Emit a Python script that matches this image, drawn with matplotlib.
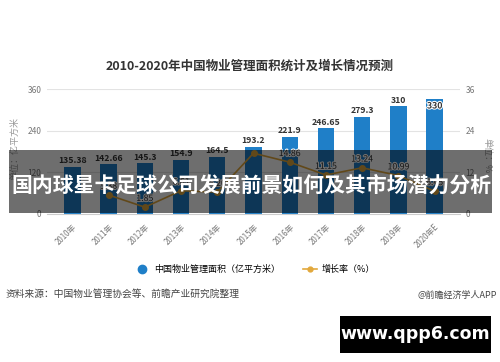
import matplotlib
matplotlib.use("Agg")
import matplotlib.pyplot as plt
import matplotlib.patheffects as pe
from matplotlib.lines import Line2D
from matplotlib.patches import Rectangle
import numpy as np

plt.rcParams['font.family'] = ['Noto Sans CJK SC', 'DejaVu Sans']

# data
years = ['2010年', '2011年', '2012年', '2013年', '2014年', '2015年',
         '2016年', '2017年', '2018年', '2019年', '2020年E']
area = [135.38, 142.66, 145.3, 154.9, 164.5, 193.2, 221.9, 246.65, 279.3, 310, 330]
growth_years = years[1:]
growth = [5.38, 1.85, 6.61, 6.20, 17.45, 14.86, 11.15, 13.24, 10.99, 6.45]
# the 2015 growth label is not shown in the picture (it would sit on 193.2)
hidden_growth_labels = ['2015年']

title = '2010-2020年中国物业管理面积统计及增长情况预测'
banner = '国内球星卡足球公司发展前景如何及其市场潜力分析'
source = '资料来源：中国物业管理协会等、前瞻产业研究院整理'

bar_col = '#1f7fc8'
line_col = '#e2a83c'
grey = '#777777'

fig = plt.figure(figsize=(5, 3.62), dpi=100)
ax = fig.add_axes([0.094, 0.410, 0.826, 0.344])
ax2 = ax.twinx()

x = np.arange(len(years))
ax.bar(x, area, width=0.45, color=bar_col, zorder=2)
ax.set_ylim(0, 360)
ax.set_yticks([0, 120, 240, 360])
ax.set_xlim(-0.7, len(years) - 0.3)
ax.set_xticks(x)
ax.set_xticklabels(years, rotation=45, ha='right', rotation_mode='anchor',
                   fontsize=5.7, color=grey)
ax.tick_params(axis='x', length=0, pad=6)
ax.tick_params(axis='y', length=0, labelsize=6, labelcolor=grey, pad=4)
ax.grid(axis='y', color='#e3e3e3', linewidth=0.8, zorder=0)
for s in ['top', 'right', 'left']:
    ax.spines[s].set_visible(False)
ax.spines['bottom'].set_color('#cccccc')
ax.set_axisbelow(True)

for i, v in enumerate(area):
    if i == len(area) - 1:
        ax.text(i, v - 6, f'{v:g}', ha='center', va='top', fontsize=6.3,
                fontweight='bold', color='#333333', zorder=5,
                path_effects=[pe.withStroke(linewidth=1.5, foreground='white')])
    else:
        ax.text(i, v + 5, f'{v:g}', ha='center', va='bottom', fontsize=6.3,
                fontweight='bold', color='#333333', zorder=5)

gx = [years.index(y) for y in growth_years]
ax2.plot(gx, growth, color=line_col, linewidth=1.2, marker='o',
         markersize=4, zorder=3)
for yr, i, v in zip(growth_years, gx, growth):
    if yr in hidden_growth_labels:
        continue
    ax2.text(i, v + 1.2, f'{v:.2f}', ha='center', va='bottom', fontsize=6.3,
             color='#333333', zorder=5,
             path_effects=[pe.withStroke(linewidth=1.5, foreground='white')])
ax2.set_ylim(0, 36)
ax2.set_yticks([0, 12, 24, 36])
ax2.tick_params(axis='y', length=0, labelsize=6, labelcolor=grey, pad=4)
for s in ['top', 'right', 'left', 'bottom']:
    ax2.spines[s].set_visible(False)

fig.text(0.03, 0.59, '单位：亿平方米', rotation=90, fontsize=6.5,
         color='#999999', ha='center', va='center')
fig.text(0.975, 0.57, '单位：%', rotation=-90, fontsize=6.5,
         color='#999999', ha='center', va='center')

fig.text(0.5, 0.818, title, ha='center', va='center', fontsize=9,
         fontweight='bold', color='#333333')

legend_handles = [
    Line2D([], [], linestyle='none', marker='o', markersize=6, color=bar_col),
    Line2D([], [], color=line_col, marker='o', markersize=3.5, linewidth=1.2),
]
fig.legend(legend_handles, ['中国物业管理面积（亿平方米）', '增长率（%）'],
           loc='center', bbox_to_anchor=(0.51, 0.255), ncol=2, frameon=False,
           fontsize=6.5, handlelength=1.6, columnspacing=2.5, handletextpad=0.5)

fig.text(0.012, 0.188, source, ha='left', va='center', fontsize=7, color='#444444')
fig.text(0.994, 0.185, '@前瞻经济学人APP', ha='right', va='center',
         fontsize=6.5, color='#444444')

# dark banner over the middle of the chart
fig.patches.append(Rectangle((0.018, 0.412), 0.966, 0.174, transform=fig.transFigure,
                             facecolor='black', alpha=0.57, zorder=10))
fig.text(0.502, 0.489, banner, ha='center', va='center', fontsize=15,
         fontweight='bold', color='white', zorder=11)

# site mark, bottom right
fig.patches.append(Rectangle((0.68, 0.025), 0.302, 0.102, transform=fig.transFigure,
                             facecolor='black', zorder=10))
fig.text(0.83, 0.076, 'www.qpp6.com', ha='center', va='center', fontsize=12.5,
         fontweight='bold', color='white', family='DejaVu Sans', zorder=11)

fig.savefig('out.png', dpi=100)
